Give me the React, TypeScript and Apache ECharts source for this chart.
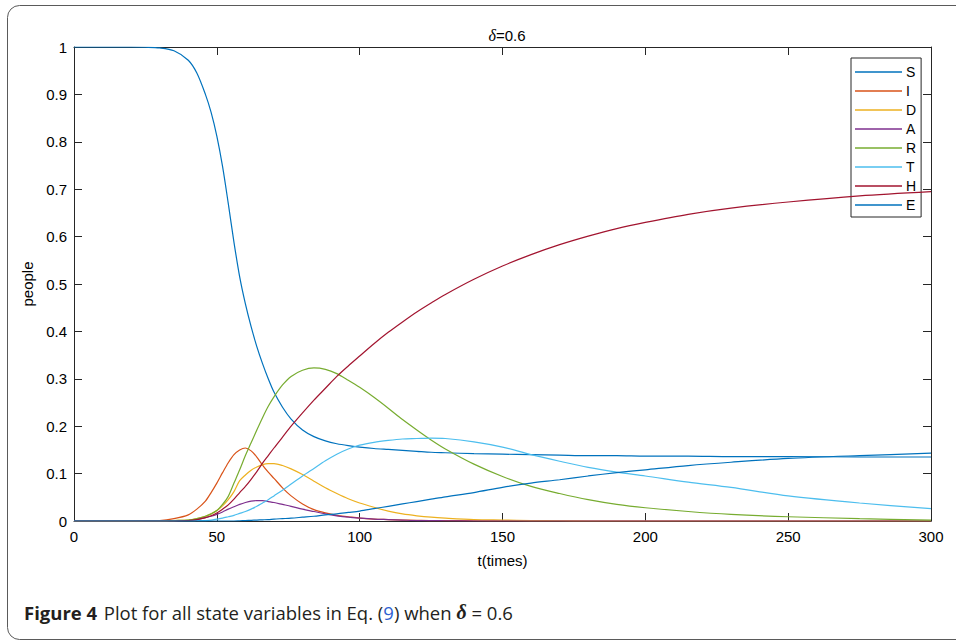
import React, { useEffect, useRef } from "react";
import * as echarts from "echarts";

const tGrid = [0, 10, 20, 25, 30, 35, 40, 43, 46, 48, 50, 52, 54, 56, 58, 60, 62, 64, 66, 68, 70, 73, 76, 80, 84, 88, 92, 96, 100, 105, 110, 115, 120, 125, 130, 140, 150, 160, 170, 180, 190, 200, 215, 230, 250, 275, 300];

const S = [1, 1, 1, 0.9995, 0.998, 0.992, 0.972, 0.945, 0.9, 0.862, 0.812, 0.748, 0.67, 0.588, 0.515, 0.458, 0.41, 0.368, 0.332, 0.3, 0.272, 0.24, 0.215, 0.192, 0.178, 0.169, 0.163, 0.159, 0.156, 0.153, 0.151, 0.149, 0.147, 0.145, 0.144, 0.142, 0.141, 0.14, 0.139, 0.138, 0.138, 0.137, 0.137, 0.136, 0.136, 0.135, 0.135];
const I = [0, 0, 0, 0.0005, 0.001, 0.005, 0.013, 0.025, 0.042, 0.06, 0.08, 0.102, 0.123, 0.14, 0.15, 0.154, 0.148, 0.135, 0.118, 0.103, 0.09, 0.07, 0.053, 0.036, 0.024, 0.017, 0.012, 0.009, 0.006, 0.004, 0.003, 0.002, 0.0015, 0.001, 0.001, 0.0005, 0.0003, 0, 0, 0, 0, 0, 0, 0, 0, 0, 0];
const D = [0, 0, 0, 0, 0, 0.001, 0.002, 0.005, 0.01, 0.015, 0.022, 0.032, 0.045, 0.062, 0.085, 0.097, 0.107, 0.114, 0.119, 0.121, 0.121, 0.117, 0.11, 0.098, 0.084, 0.07, 0.058, 0.047, 0.038, 0.029, 0.021, 0.015, 0.011, 0.008, 0.006, 0.003, 0.002, 0.001, 0.0005, 0, 0, 0, 0, 0, 0, 0, 0];
const A = [0, 0, 0, 0, 0, 0, 0.001, 0.003, 0.007, 0.01, 0.014, 0.019, 0.025, 0.03, 0.035, 0.039, 0.042, 0.043, 0.043, 0.041, 0.039, 0.035, 0.031, 0.025, 0.02, 0.015, 0.011, 0.008, 0.006, 0.004, 0.003, 0.002, 0.001, 0.001, 0.0005, 0, 0, 0, 0, 0, 0, 0, 0, 0, 0, 0, 0];
const R = [0, 0, 0, 0, 0, 0.001, 0.002, 0.005, 0.01, 0.015, 0.022, 0.035, 0.052, 0.08, 0.108, 0.138, 0.165, 0.192, 0.218, 0.242, 0.262, 0.287, 0.305, 0.318, 0.323, 0.32, 0.311, 0.297, 0.282, 0.261, 0.238, 0.214, 0.192, 0.171, 0.152, 0.12, 0.094, 0.073, 0.058, 0.045, 0.035, 0.028, 0.02, 0.014, 0.009, 0.005, 0.002];
const T = [0, 0, 0, 0, 0, 0, 0, 0.0005, 0.001, 0.002, 0.004, 0.006, 0.009, 0.012, 0.016, 0.02, 0.025, 0.031, 0.038, 0.045, 0.053, 0.065, 0.078, 0.095, 0.111, 0.127, 0.141, 0.152, 0.16, 0.166, 0.17, 0.173, 0.174, 0.175, 0.174, 0.167, 0.156, 0.14, 0.126, 0.113, 0.103, 0.095, 0.082, 0.071, 0.053, 0.038, 0.026];
const H = [0, 0, 0, 0, 0, 0, 0.001, 0.003, 0.007, 0.011, 0.017, 0.025, 0.034, 0.046, 0.06, 0.073, 0.088, 0.104, 0.122, 0.138, 0.154, 0.177, 0.2, 0.228, 0.255, 0.28, 0.305, 0.327, 0.348, 0.374, 0.398, 0.42, 0.441, 0.46, 0.478, 0.51, 0.538, 0.562, 0.583, 0.601, 0.617, 0.63, 0.647, 0.66, 0.673, 0.686, 0.695];
const E = [0, 0, 0, 0, 0, 0, 0, 0, 0, 0, 0, 0, 0, 0, 0.0005, 0.001, 0.0015, 0.002, 0.0025, 0.003, 0.004, 0.005, 0.006, 0.008, 0.01, 0.013, 0.015, 0.018, 0.021, 0.026, 0.031, 0.036, 0.041, 0.046, 0.051, 0.06, 0.071, 0.08, 0.087, 0.095, 0.102, 0.108, 0.117, 0.124, 0.132, 0.138, 0.143];

const seriesNames = ["S", "I", "D", "A", "R", "T", "H", "E"];
const seriesValues = [S, I, D, A, R, T, H, E];
const seriesColors = ["#0072BD", "#D95319", "#EDB120", "#7E2F8E", "#77AC30", "#4DBEEE", "#A2142F", "#0072BD"];

const xTicks = { min: 0, max: 300, interval: 50 };
const yTicks = { min: 0, max: 1, interval: 0.1 };

export default function App() {
  const ref = useRef<HTMLDivElement>(null);
  useEffect(() => {
    document.body.style.margin = "0";
    const chart = echarts.init(ref.current!, null, { renderer: "svg" });
    const axisColor = "#262626";
    const font = "Liberation Sans";
    const baseX = {
      type: "value",
      min: xTicks.min,
      max: xTicks.max,
      interval: xTicks.interval,
      splitLine: { show: false },
      axisLine: { show: true, onZero: false, lineStyle: { color: axisColor, width: 1 } },
      axisTick: { show: true, inside: true, length: 8, lineStyle: { color: axisColor } },
    };
    const baseY = {
      type: "value",
      min: yTicks.min,
      max: yTicks.max,
      interval: yTicks.interval,
      splitLine: { show: false },
      axisLine: { show: true, onZero: false, lineStyle: { color: axisColor, width: 1 } },
      axisTick: { show: true, inside: true, length: 8, lineStyle: { color: axisColor } },
    };
    chart.setOption({
      animation: false,
      backgroundColor: "#fff",
      title: {
        text: "{d|δ}=0.6",
        left: 502,
        textAlign: "center",
        top: 22,
        textStyle: {
          fontFamily: font,
          fontSize: 15,
          fontWeight: "normal",
          color: "#000",
          rich: {
            d: { fontFamily: "Liberation Serif", fontStyle: "italic", fontSize: 16, color: "#000" },
          },
        },
      },
      grid: { left: 74, right: 25, top: 47, bottom: 119 },
      legend: {
        orient: "vertical",
        left: 851,
        top: 58,
        padding: [7, 5, 5, 4],
        itemGap: 5,
        itemWidth: 47,
        itemHeight: 1.5,
        icon: "rect",
        backgroundColor: "#fff",
        borderColor: axisColor,
        borderWidth: 1,
        borderRadius: 0,
        data: seriesNames.map((n) => ({ name: n })),
        textStyle: { fontFamily: font, fontSize: 14, lineHeight: 14, color: "#000", padding: [0, 0, 0, -1] },
      },
      xAxis: [
        {
          ...baseX,
          position: "bottom",
          name: "t(times)",
          nameLocation: "middle",
          nameGap: 32,
          nameTextStyle: { fontFamily: font, fontSize: 15, color: "#000" },
          axisLabel: { fontFamily: font, fontSize: 15, color: "#000", margin: 8 },
        },
        { ...baseX, position: "top", axisLabel: { show: false } },
      ],
      yAxis: [
        {
          ...baseY,
          position: "left",
          name: "people",
          nameLocation: "middle",
          nameGap: 33,
          nameTextStyle: { fontFamily: font, fontSize: 15, color: "#000" },
          axisLabel: { fontFamily: font, fontSize: 15, color: "#000", margin: 7, formatter: (v: number) => String(Math.round(v * 10) / 10) },
        },
        { ...baseY, position: "right", axisLabel: { show: false } },
      ],
      series: seriesNames.map((name, k) => ({
        name,
        type: "line",
        xAxisIndex: 0,
        yAxisIndex: 0,
        showSymbol: false,
        symbol: "none",
        smooth: 0.3,
        color: seriesColors[k],
        lineStyle: { color: seriesColors[k], width: 1.2 },
        data: tGrid.map((t, i) => [t, seriesValues[k][i]]),
        z: 2 + k,
      })),
      graphic: [
        {
          type: "rect",
          shape: { x: 7.5, y: 5.5, width: 1000, height: 634, r: 12 },
          style: { fill: "none", stroke: "#5a5a5a", lineWidth: 1 },
          silent: true,
        },
        {
          type: "text",
          left: 24,
          top: 602,
          style: {
            text: "{b|Figure 4}  {n|Plot for all state variables in Eq. (}{l|9}{n|) when }{d|δ}{n| = 0.6}",
            rich: {
              b: { fontFamily: "Open Sans", fontWeight: "bold", fontSize: 18.5, fill: "#231f20" },
              n: { fontFamily: "Open Sans", fontSize: 18.5, fill: "#231f20" },
              l: { fontFamily: "Open Sans", fontSize: 18.5, fill: "#2f5fd0" },
              d: { fontFamily: "Liberation Serif", fontStyle: "italic", fontWeight: "bold", fontSize: 20, fill: "#231f20" },
            },
          },
        },
      ],
    });
    return () => chart.dispose();
  }, []);
  return <div ref={ref} style={{ width: 956, height: 640 }} />;
}
